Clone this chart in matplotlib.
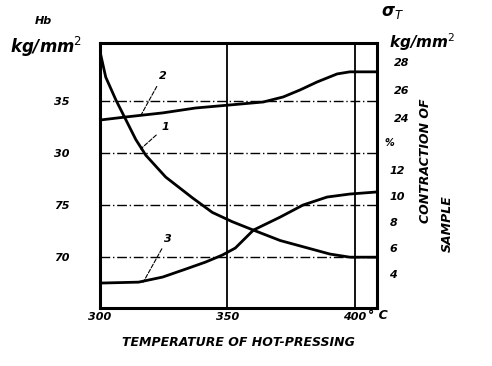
import matplotlib
matplotlib.use("Agg")
import matplotlib.pyplot as plt

# curve 1: Hb (left axis, kg/mm2)
temp_1 = [300.2, 302.3, 306.3, 310.2, 314.1, 318.0, 325.8, 336.3, 344.1, 352.0,
          360.2, 370.7, 381.2, 390.2, 398.0, 408.6]
hb_1 = [89.6, 87.3, 85.1, 83.2, 81.3, 79.8, 77.7, 75.7, 74.3, 73.4,
        72.6, 71.6, 70.9, 70.3, 70.0, 70.0]

# curve 2: sigma_T (right upper scale, kg/mm2)
temp_2 = [300.4, 310.2, 324.6, 337.5, 351.2, 364.1, 371.9, 378.5, 385.2, 393.0,
          398.0, 408.6]
sig_2 = [23.86, 24.07, 24.36, 24.71, 24.93, 25.14, 25.5, 26.0, 26.57, 27.14,
         27.29, 27.29]

# curve 3: contraction of sample (right lower scale, %)
temp_3 = [300.4, 315.2, 324.6, 333.6, 341.4, 348.0, 353.1, 360.2, 370.7, 379.7,
          389.1, 398.0, 408.6]
contr_3 = [3.31, 3.38, 3.77, 4.38, 4.92, 5.46, 6.0, 7.38, 8.38, 9.31,
           9.92, 10.15, 10.31]

x_ticks = [300, 350, 400]
left_ticks = [70, 75, 80, 85]
left_labels = ["70", "75", "30", "35"]
pct_ticks = [4, 6, 8, 10, 12]
sig_ticks = [24, 26, 28]

hand = dict(style="italic", fontweight="bold", family="DejaVu Sans")
curve = dict(color="black", lw=2.0, solid_joinstyle="round", solid_capstyle="round")

fig = plt.figure(figsize=(4.92, 3.66), dpi=100)
ax = fig.add_axes([0.203, 0.158, 0.563, 0.725])
ax.set_xlim(300, 408.6)
ax.set_ylim(65.1, 90.6)

for s in ax.spines.values():
    s.set_linewidth(2.2)

# grid lines
for v in left_ticks:
    ax.axhline(v, color="black", lw=1.0, ls=(0, (7, 2, 1, 2)))
for v in [350, 400]:
    ax.axvline(v, color="black", lw=1.3)

ax.plot(temp_1, hb_1, **curve)

ax.set_xticks(x_ticks)
ax.set_xticklabels([str(t) for t in x_ticks], fontsize=8, **hand)
ax.set_yticks(left_ticks)
ax.set_yticklabels(left_labels, fontsize=8, **hand)
ax.tick_params(length=0, pad=22, axis="y")
ax.tick_params(length=0, pad=3, axis="x")

ax2 = ax.twinx()
ax2.set_ylim(1.38, 21.77)
ax2.plot(temp_3, contr_3, **curve)
ax2.set_yticks(pct_ticks)
ax2.set_yticklabels([str(t) for t in pct_ticks], fontsize=8, **hand)
ax2.tick_params(length=0, pad=9)
for s in ax2.spines.values():
    s.set_visible(False)

ax3 = ax.twinx()
ax3.set_ylim(10.43, 29.36)
ax3.plot(temp_2, sig_2, **curve)
ax3.set_yticks(sig_ticks)
ax3.set_yticklabels([str(t) for t in sig_ticks], fontsize=8, **hand)
ax3.tick_params(length=0, pad=12)
for s in ax3.spines.values():
    s.set_visible(False)

# curve numbers with leaders
ax.annotate("2", xy=(316, 83.6), xytext=(323, 87.1), fontsize=8, **hand,
            arrowprops=dict(arrowstyle="-", lw=0.8, ls="--", shrinkA=2, shrinkB=0))
ax.annotate("1", xy=(316, 80.4), xytext=(324, 82.2), fontsize=8, **hand,
            arrowprops=dict(arrowstyle="-", lw=0.8, ls="--", shrinkA=2, shrinkB=0))
ax.annotate("3", xy=(317, 67.6), xytext=(325, 71.5), fontsize=8, **hand,
            arrowprops=dict(arrowstyle="-", lw=0.8, ls="--", shrinkA=2, shrinkB=0))

# axis titles
fig.text(0.07, 0.935, "Hb", fontsize=8, **hand)
fig.text(0.02, 0.855, "kg/mm$^2$", fontsize=12, **hand)
fig.text(0.775, 0.955, "σ$_T$", fontsize=12, **hand)
fig.text(0.79, 0.87, "kg/mm$^2$", fontsize=11, **hand)
fig.text(0.782, 0.60, "%", fontsize=7, **hand)
fig.text(0.748, 0.128, "° C", fontsize=9, **hand)
fig.text(0.865, 0.56, "CONTRACTION OF", rotation=90, fontsize=9, **hand,
         ha="center", va="center")
fig.text(0.91, 0.39, "SAMPLE", rotation=90, fontsize=9, **hand,
         ha="center", va="center")
fig.text(0.485, 0.063, "TEMPERATURE OF HOT-PRESSING", fontsize=9, **hand,
         ha="center", va="center")

fig.savefig("out.png", dpi=100)
